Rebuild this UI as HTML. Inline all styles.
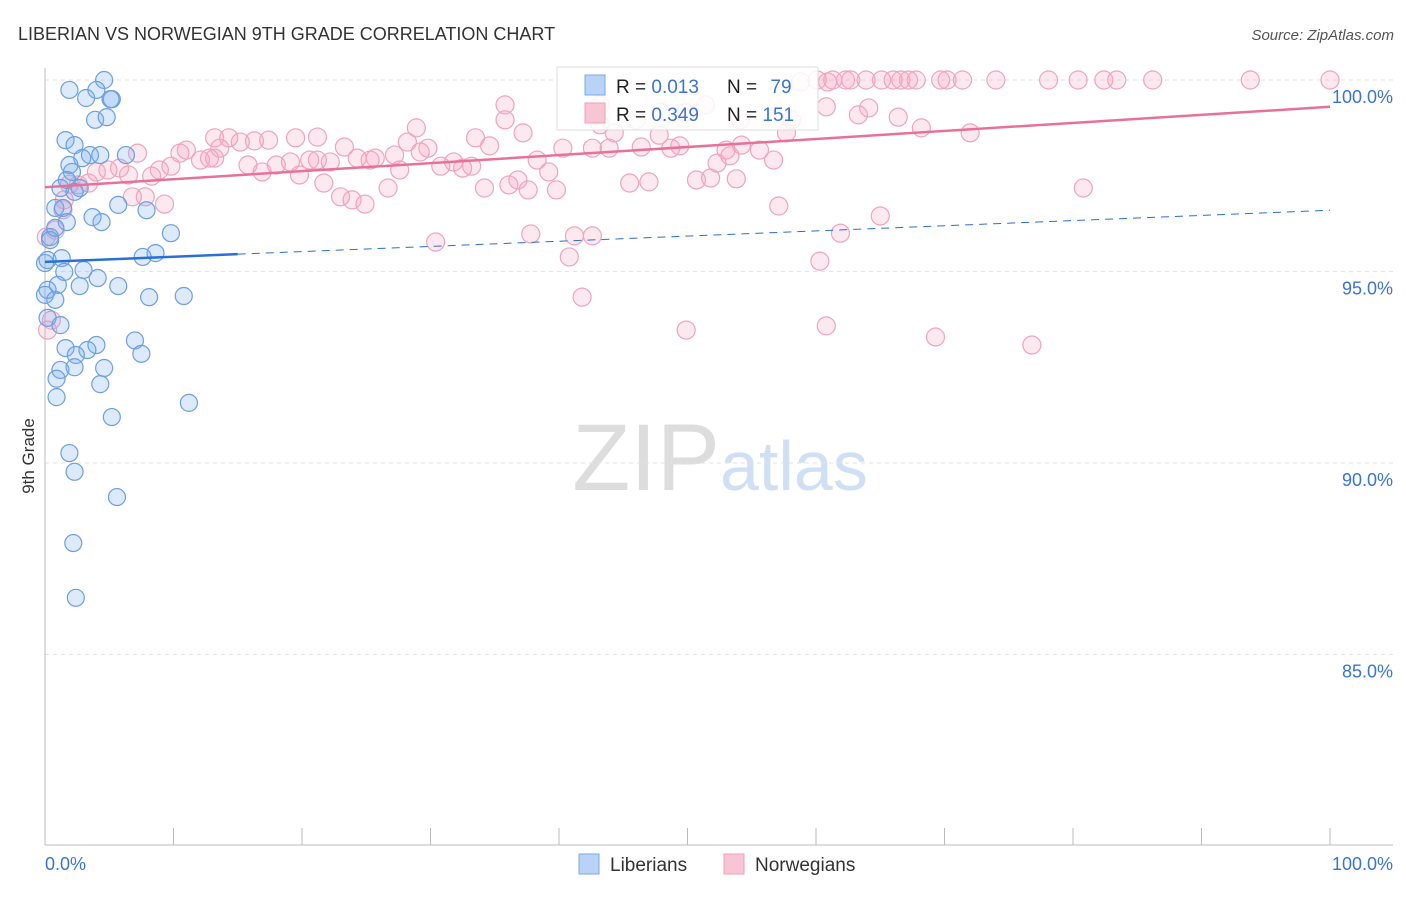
<!DOCTYPE html>
<html><head><meta charset="utf-8"><style>
body{margin:0;background:#fff;font-family:"Liberation Sans",sans-serif}
svg text{font-family:"Liberation Sans",sans-serif}
</style></head><body>
<svg id="c" width="1406" height="892">
<text x="18" y="40" font-size="18" fill="#333">LIBERIAN VS NORWEGIAN 9TH GRADE CORRELATION CHART</text>
<text x="1394" y="40" font-size="15" fill="#555" text-anchor="end" font-style="italic">Source: ZipAtlas.com</text>
<text x="720" y="490" font-size="95" fill="#ddd" text-anchor="end" font-family="Liberation Serif">ZIP</text>
<text x="720" y="490" font-size="70" fill="#cfe0f5">atlas</text>
<g id="grid"></g><g id="pts"></g><g id="trend"></g>
<text transform="translate(34,456) rotate(-90)" font-size="17" fill="#333" text-anchor="middle">9th Grade</text>
<text x="45" y="870" font-size="18" fill="#3a74d6">0.0%</text>
<text x="1393" y="870" font-size="18" fill="#3a74d6" text-anchor="end">100.0%</text>
<g>
<rect x="557" y="67" width="261" height="63" fill="#fff" fill-opacity="0.85" stroke="#ddd"/>
<rect x="585" y="75" width="20" height="20" fill="#b8d3f5" stroke="#7aa8e6"/>
<rect x="585" y="103" width="20" height="20" fill="#f8c5d5" stroke="#ef9fba"/>
<text x="616" y="93" font-size="19" fill="#222">R = <tspan fill="#3a74d6">0.013</tspan></text>
<text x="727" y="93" font-size="19" fill="#222">N = <tspan fill="#3a74d6" dx="8">79</tspan></text>
<text x="616" y="121" font-size="19" fill="#222">R = <tspan fill="#3a74d6">0.349</tspan></text>
<text x="727" y="121" font-size="19" fill="#222">N = <tspan fill="#3a74d6">151</tspan></text>
</g>
<g>
<rect x="579" y="854" width="20" height="20" fill="#b8d3f5" stroke="#7aa8e6"/>
<text x="610" y="871" font-size="19" fill="#333">Liberians</text>
<rect x="724" y="854" width="20" height="20" fill="#f8c5d5" stroke="#ef9fba"/>
<text x="755" y="871" font-size="19" fill="#333">Norwegians</text>
</g>
</svg>
<script>
const yTicks=[100,95,90,85];
const yTickLabels=["100.0%","95.0%","90.0%","85.0%"];
const xTicks=[0,10,20,30,40,50,60,70,80,90,100];
const blueX=[4.6,1.9,4.0,3.2,5.2,5.1,3.9,4.8,1.6,2.3,3.5,4.3,6.3,2.9,1.9,2.1,1.7,1.2,2.7,2.3,0.8,1.4,5.7,7.9,3.7,4.4,1.7,0.4,9.8,8.6,7.6,0.2,1.3,1.5,3.0,4.1,1.0,2.7,5.7,0.2,0.0,0.8,8.1,10.8,0.2,1.2,7.0,4.0,3.3,1.6,7.5,2.4,1.2,2.3,4.6,0.9,4.3,0.9,5.2,11.2,1.9,2.3,5.6,2.2,2.4,0.0,0.4,0.8];
const blueY=[100.0,99.74,99.74,99.53,99.5,99.5,98.96,99.03,98.43,98.3,98.04,98.04,98.04,97.96,97.78,97.6,97.39,97.18,97.18,97.08,96.66,96.66,96.74,96.6,96.42,96.29,96.29,95.9,96.0,95.48,95.38,95.3,95.35,94.99,95.04,94.83,94.65,94.62,94.62,94.52,94.39,94.26,94.33,94.36,93.79,93.6,93.2,93.08,92.95,93.0,92.85,92.82,92.43,92.5,92.48,92.2,92.06,91.72,91.2,91.57,90.26,89.77,89.11,87.91,86.48,95.22,95.82,96.14];
const pinkX=[60.1,61.3,62.3,62.7,63.9,65.1,66.0,66.6,67.2,67.8,69.7,70.2,71.4,74.0,78.1,80.4,82.4,83.4,86.2,93.8,100.0,60.9,58.8,60.8,64.1,63.3,66.4,68.2,72.0,80.8,65.0,61.9,60.3,60.8,69.3,76.8,49.9,41.8,40.8,41.2,42.6,37.8,30.4,35.8,37.2,34.6,33.5,28.2,28.9,29.8,27.2,25.3,23.3,24.3,22.2,20.6,21.2,19.5,21.2,17.4,16.3,15.2,14.3,13.2,13.6,12.8,12.1,11.0,10.5,9.8,8.9,8.3,7.2,6.5,5.8,4.9,4.0,3.4,2.6,1.9,1.4,1.5,0.8,0.1,0.5,0.2,6.8,7.8,9.3,15.8,16.9,18.0,19.1,19.8,21.7,23.0,23.9,24.9,25.7,26.7,27.6,29.2,30.8,31.8,32.5,33.2,34.2,36.1,36.8,37.6,38.3,39.2,39.8,40.3,42.6,43.2,43.9,44.3,45.5,46.4,47.0,47.8,48.7,49.4,50.7,51.8,52.3,53.0,53.3,53.8,54.2,55.6,56.7,57.1,57.7,58.1,54.1,51.4,43.2,46.0,47.9,49.9,35.8,13.2];
const pinkY=[100,100,100,100,100,100,100,100,100,100,100,100,100,100,100,100,100,100,100,100,100,99.95,99.95,99.3,99.27,99.09,99.03,98.75,98.62,97.18,96.45,96.0,95.27,93.58,93.29,93.08,93.47,94.33,95.38,95.93,95.93,95.98,95.77,98.96,98.62,98.28,98.49,98.38,98.75,98.22,98.04,97.91,98.25,97.96,97.86,97.91,97.91,98.49,98.51,98.43,98.41,98.38,98.49,98.49,98.22,97.96,97.91,98.17,98.09,97.75,97.65,97.49,98.09,97.52,97.7,97.65,97.6,97.31,97.26,97.28,96.61,96.87,96.08,95.9,93.73,93.47,96.95,96.95,96.76,97.78,97.6,97.78,97.86,97.52,97.31,96.95,96.87,96.76,97.96,97.18,97.65,98.12,97.75,97.86,97.7,97.75,97.18,97.26,97.39,97.13,97.91,97.6,97.13,98.22,98.22,98.83,98.22,98.62,97.31,98.25,97.34,98.56,98.22,98.28,97.39,97.44,97.83,98.17,98.02,97.42,98.3,98.17,97.91,96.71,98.62,98.96,98.96,99.35,99.35,98.96,99.16,99.16,99.35,97.96];
const blueTrend=[95.25,96.6];
const pinkTrend=[97.2,99.3];
const NS='http://www.w3.org/2000/svg';
const X=v=>45+v*12.85, Y=v=>80+(100-v)*38.3;
function mk(p,t,a){const e=document.createElementNS(NS,t);for(const k in a)e.setAttribute(k,a[k]);p.appendChild(e);return e;}
const g=document.getElementById('grid');
yTicks.forEach((t,i)=>{const l=mk(g,'line',{x1:45,x2:1393,y1:Y(t),y2:Y(t),stroke:'#e2e2e2','stroke-dasharray':'4,4'});


const tx=mk(g,'text',{x:1393,y:Y(t)+23,'font-size':18,fill:'#3a74d6','text-anchor':'end'});tx.textContent=yTickLabels[i];

});
const ax=mk(g,'line',{x1:45,x2:45,y1:68,y2:845,stroke:'#bbb'});


const bx=mk(g,'line',{x1:45,x2:1393,y1:845,y2:845,stroke:'#bbb'});


xTicks.forEach(t=>{const l=mk(g,'line',{x1:X(t),x2:X(t),y1:828,y2:845,stroke:'#bbb'});

});
const P=document.getElementById('pts');
pinkX.forEach((v,i)=>{const c=mk(P,'circle',{cx:X(v),cy:Y(pinkY[i]),r:9,fill:'rgba(245,165,192,0.25)',stroke:'#f0a3bd','stroke-width':1.2});

});
blueX.forEach((v,i)=>{const c=mk(P,'circle',{cx:X(v),cy:Y(blueY[i]),r:8.5,fill:'rgba(120,170,240,0.25)',stroke:'#6b9fe2','stroke-width':1.2});

});
const T=document.getElementById('trend');
const by=x=>blueTrend[0]+(blueTrend[1]-blueTrend[0])*x/100;
let l1=mk(T,'line',{x1:X(0),y1:Y(by(0)),x2:X(15),y2:Y(by(15)),stroke:'#2a6fd6','stroke-width':2.5});


let l2=mk(T,'line',{x1:X(15),y1:Y(by(15)),x2:X(100),y2:Y(by(100)),stroke:'#2a6fd6','stroke-width':1,'stroke-dasharray':'8,6'});


let l3=mk(T,'line',{x1:X(0),y1:Y(pinkTrend[0]),x2:X(100),y2:Y(pinkTrend[1]),stroke:'#e8719a','stroke-width':2.5});


</script>
</body></html>
